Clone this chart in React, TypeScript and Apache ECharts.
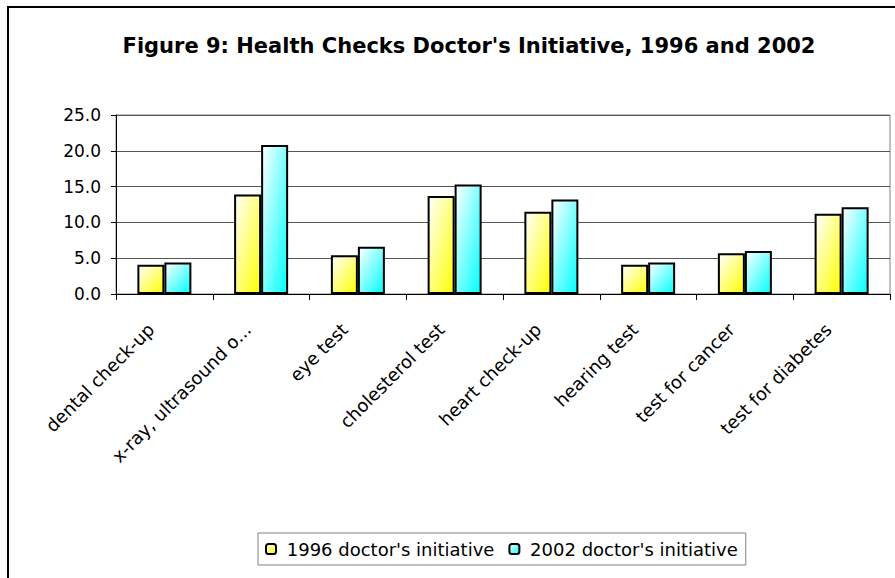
import React, { useEffect, useRef } from "react";
import * as echarts from "echarts";

const categories = [
  "dental check-up",
  "x-ray, ultrasound o...",
  "eye test",
  "cholesterol test",
  "heart check-up",
  "hearing test",
  "test for cancer",
  "test for diabetes",
];
const values1996 = [4.1, 13.9, 5.4, 13.7, 11.5, 4.1, 5.7, 11.2];
const values2002 = [4.4, 20.8, 6.6, 15.3, 13.2, 4.4, 6.0, 12.1];
const yTicks = { min: 0, max: 25, interval: 5 };
const seriesNames = ["1996 doctor's initiative", "2002 doctor's initiative"];
const titleText = "Figure 9: Health Checks Doctor's Initiative, 1996 and 2002";

const FONT = "'DejaVu Sans', 'Liberation Sans', Arial, sans-serif";

function grad(color: string) {
  return new echarts.graphic.LinearGradient(0, 0, 1, 1, [
    { offset: 0, color: "#ffffff" },
    { offset: 1, color },
  ]);
}

export default function App() {
  const ref = useRef<HTMLDivElement>(null);
  useEffect(() => {
    if (!ref.current) return;
    const chart = echarts.init(ref.current, null, { renderer: "svg" });
    chart.setOption({
      animation: false,
      backgroundColor: "#ffffff",
      textStyle: { fontFamily: FONT },
      title: {
        text: titleText,
        left: 464,
        textAlign: "center",
        top: 30,
        textStyle: { fontFamily: FONT, fontSize: 21, fontWeight: "bold", color: "#000" },
      },
      graphic: [
        {
          type: "rect",
          shape: { x: 8, y: 7, width: 950, height: 650 },
          style: { fill: "none", stroke: "#000", lineWidth: 2 },
          silent: true,
        },
      ],
      legend: {
        left: 258,
        top: 533,
        orient: "horizontal",
        padding: [7, 8, 7, 7],
        itemGap: 14,
        itemWidth: 10,
        itemHeight: 10,
        borderColor: "#808080",
        borderWidth: 1,
        formatter: (name: string) => " " + name,
        textStyle: { fontFamily: FONT, fontSize: 18, color: "#000" },
        data: seriesNames,
      },
      grid: {
        left: 116,
        right: 5,
        top: 115,
        bottom: 284,
        show: true,
        borderColor: "#808080",
        borderWidth: 1,
      },
      xAxis: {
        type: "category",
        data: categories,
        axisLine: { show: true, lineStyle: { color: "#000", width: 1 } },
        axisTick: { show: true, length: 6, lineStyle: { color: "#000" } },
        axisLabel: {
          interval: 0,
          rotate: 45,
          fontFamily: FONT,
          fontSize: 18,
          color: "#000",
          margin: 19,
          padding: [0, 19, 0, 0],
        },
      },
      yAxis: {
        type: "value",
        min: yTicks.min,
        max: yTicks.max,
        interval: yTicks.interval,
        axisLine: { show: true, lineStyle: { color: "#000", width: 1 } },
        axisTick: { show: true, length: 5, lineStyle: { color: "#000" } },
        axisLabel: {
          fontFamily: FONT,
          fontSize: 17,
          color: "#000",
          margin: 15,
          formatter: (v: number) => v.toFixed(1),
        },
        splitLine: { show: true, lineStyle: { color: "#555555", width: 1 } },
      },
      series: [
        {
          name: seriesNames[0],
          type: "bar",
          data: values1996,
          barWidth: 27,
          barGap: "0%",
          itemStyle: { color: grad("#ffff00"), borderColor: "#000", borderWidth: 2 },
        },
        {
          name: seriesNames[1],
          type: "bar",
          data: values2002,
          barWidth: 27,
          barGap: "0%",
          itemStyle: { color: grad("#00ffff"), borderColor: "#000", borderWidth: 2 },
        },
      ],
    });
    return () => chart.dispose();
  }, []);
  return (
    <div
      ref={ref}
      style={{ position: "fixed", left: 0, top: 0, width: 895, height: 578 }}
    />
  );
}
